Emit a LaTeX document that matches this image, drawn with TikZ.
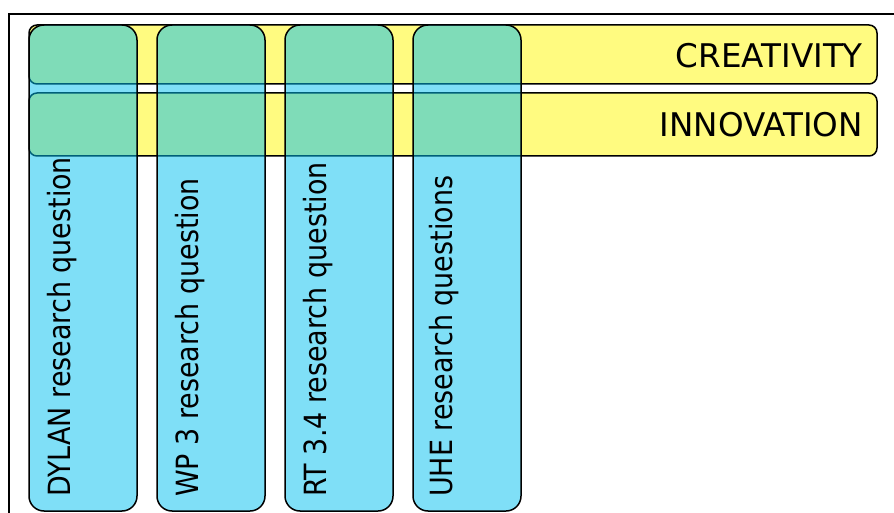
\documentclass[tikz,border=0pt]{standalone}
\usepackage{fontspec}
\setmainfont{DejaVu Sans}
\newfontfamily\narrowfont{DejaVu Sans}[FakeStretch=0.88]
\usepackage{tikz}

\definecolor{barfill}{RGB}{255,251,128}
\definecolor{columnfill}{RGB}{0,191,240}

\begin{document}
\begin{tikzpicture}[x=1pt,y=-1pt]
            \tikzstyle{frame}=[draw, line width=1.8pt]
            \tikzstyle{bar}=[draw, line width=1.5pt, fill=barfill, rounded corners=8pt, minimum width=848pt, inner sep=0pt]
            \tikzstyle{column}=[draw, line width=1.5pt, fill=columnfill, fill opacity=0.5, draw opacity=1, rounded corners=15pt, minimum width=108pt, minimum height=486pt, inner sep=0pt]
            \tikzstyle{bartext}=[inner sep=0pt, anchor=base east, font=\fontsize{32.6}{38}\selectfont]
            \tikzstyle{columntext}=[inner sep=0pt, anchor=base west, rotate=90, font=\narrowfont\fontsize{30.6}{36}\selectfont]
            \useasboundingbox (0,0) rectangle (894,513);
            \draw[frame] (9,14) rectangle (905,525);
            % the two horizontal bars
            \node[bar, minimum height=59pt] (creativity) at (453,54.5) {};
            \node[bar, minimum height=63pt] (innovation) at (453,124.5) {};
            \node[bartext] (creativity-label) at (863,68) {CREATIVITY};
            \node[bartext] (innovation-label) at (863,137) {INNOVATION};
            % the four columns laid over them
            \node[column] (dylan) at (83,268) {};
            \node[column] (wp) at (211,268) {};
            \node[column] (rt) at (339,268) {};
            \node[column] (uhe) at (467,268) {};
            \node[columntext] (dylan-label) at (70,497) {DYLAN research question};
            \node[columntext] (wp-label) at (198,497) {WP 3 research question};
            \node[columntext] (rt-label) at (326,497) {RT 3.4 research question};
            \node[columntext] (uhe-label) at (452,497) {UHE research questions};
        \end{tikzpicture}
\end{document}
